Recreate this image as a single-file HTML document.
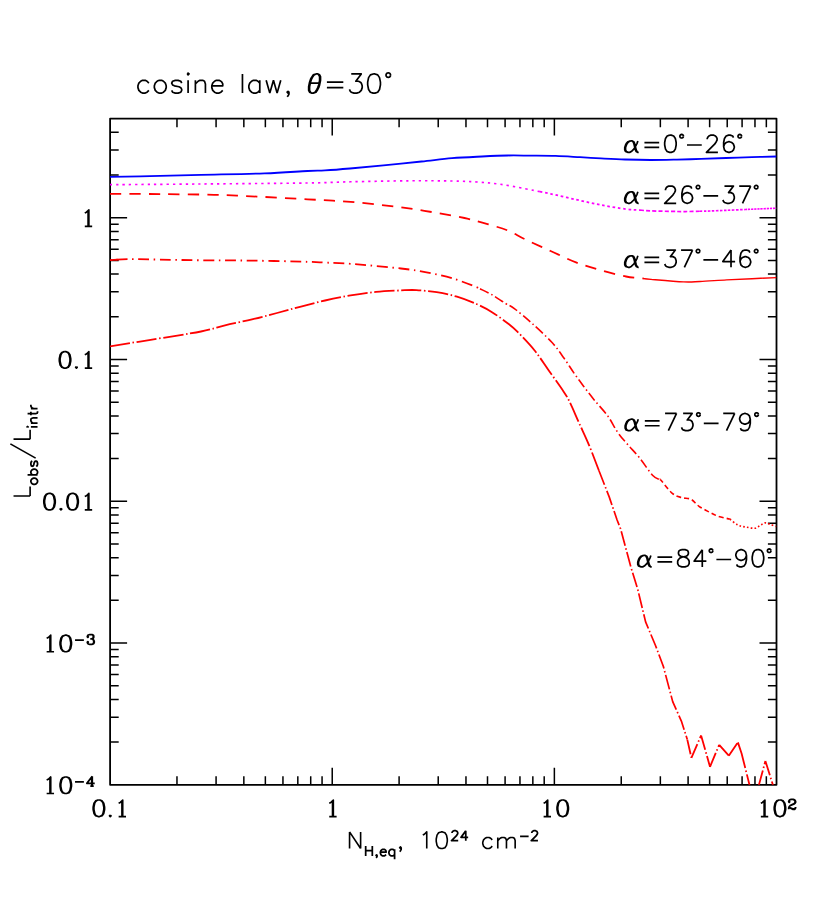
<!DOCTYPE html>
<html lang="en">
<head>
<meta charset="utf-8">
<title>cosine law, θ=30° — L_obs/L_intr vs N_H,eq</title>
<style>
html,body{margin:0;padding:0;background:#ffffff;}
body{width:830px;height:911px;overflow:hidden;font-family:"Liberation Sans",sans-serif;}
svg{display:block;}
.lbl text{font-family:"Liberation Sans",sans-serif;fill:#000;fill-opacity:0;stroke:none;}
</style>
</head>
<body>
<svg width="830" height="911" viewBox="0 0 830 911" role="img" aria-label="Log-log plot of L_obs/L_intr versus N_H,eq for cosine law, theta = 30 degrees">
<rect x="0" y="0" width="830" height="911" fill="#ffffff"/>
<defs><clipPath id="plotclip"><rect x="110.1" y="118.6" width="666.4" height="666.2"/></clipPath></defs>
<g id="axes" fill="none" stroke="#000000" stroke-linecap="butt">
<path d="M176.97 784.8V776.2M176.97 118.6V127.2M216.08 784.8V776.2M216.08 118.6V127.2M243.84 784.8V776.2M243.84 118.6V127.2M265.36 784.8V776.2M265.36 118.6V127.2M282.95 784.8V776.2M282.95 118.6V127.2M297.82 784.8V776.2M297.82 118.6V127.2M310.71 784.8V776.2M310.71 118.6V127.2M322.07 784.8V776.2M322.07 118.6V127.2M332.23 784.8V767.8M332.23 118.6V135.6M399.1 784.8V776.2M399.1 118.6V127.2M438.22 784.8V776.2M438.22 118.6V127.2M465.97 784.8V776.2M465.97 118.6V127.2M487.5 784.8V776.2M487.5 118.6V127.2M505.09 784.8V776.2M505.09 118.6V127.2M519.96 784.8V776.2M519.96 118.6V127.2M532.84 784.8V776.2M532.84 118.6V127.2M544.2 784.8V776.2M544.2 118.6V127.2M554.37 784.8V767.8M554.37 118.6V135.6M621.24 784.8V776.2M621.24 118.6V127.2M660.35 784.8V776.2M660.35 118.6V127.2M688.1 784.8V776.2M688.1 118.6V127.2M709.63 784.8V776.2M709.63 118.6V127.2M727.22 784.8V776.2M727.22 118.6V127.2M742.09 784.8V776.2M742.09 118.6V127.2M754.97 784.8V776.2M754.97 118.6V127.2M766.34 784.8V776.2M766.34 118.6V127.2M110.1 742.12H118.7M776.5 742.12H767.9M110.1 717.16H118.7M776.5 717.16H767.9M110.1 699.44H118.7M776.5 699.44H767.9M110.1 685.7H118.7M776.5 685.7H767.9M110.1 674.48H118.7M776.5 674.48H767.9M110.1 664.99H118.7M776.5 664.99H767.9M110.1 656.76H118.7M776.5 656.76H767.9M110.1 649.51H118.7M776.5 649.51H767.9M110.1 643.02H127.1M776.5 643.02H759.5M110.1 600.35H118.7M776.5 600.35H767.9M110.1 575.38H118.7M776.5 575.38H767.9M110.1 557.67H118.7M776.5 557.67H767.9M110.1 543.93H118.7M776.5 543.93H767.9M110.1 532.7H118.7M776.5 532.7H767.9M110.1 523.21H118.7M776.5 523.21H767.9M110.1 514.99H118.7M776.5 514.99H767.9M110.1 507.74H118.7M776.5 507.74H767.9M110.1 501.25H127.1M776.5 501.25H759.5M110.1 458.57H118.7M776.5 458.57H767.9M110.1 433.6H118.7M776.5 433.6H767.9M110.1 415.89H118.7M776.5 415.89H767.9M110.1 402.15H118.7M776.5 402.15H767.9M110.1 390.93H118.7M776.5 390.93H767.9M110.1 381.43H118.7M776.5 381.43H767.9M110.1 373.21H118.7M776.5 373.21H767.9M110.1 365.96H118.7M776.5 365.96H767.9M110.1 359.47H127.1M776.5 359.47H759.5M110.1 316.79H118.7M776.5 316.79H767.9M110.1 291.83H118.7M776.5 291.83H767.9M110.1 274.12H118.7M776.5 274.12H767.9M110.1 260.38H118.7M776.5 260.38H767.9M110.1 249.15H118.7M776.5 249.15H767.9M110.1 239.66H118.7M776.5 239.66H767.9M110.1 231.44H118.7M776.5 231.44H767.9M110.1 224.18H118.7M776.5 224.18H767.9M110.1 217.7H127.1M776.5 217.7H759.5M110.1 175.02H118.7M776.5 175.02H767.9M110.1 150.05H118.7M776.5 150.05H767.9M110.1 132.34H118.7M776.5 132.34H767.9" stroke-width="1.5"/>
<rect x="110.1" y="118.6" width="666.4" height="666.2" stroke-width="1.8" stroke-linejoin="round"/>
</g>
<g id="curves" fill="none" stroke-linecap="butt" stroke-linejoin="round" clip-path="url(#plotclip)">
<path d="M110 176.9C116.67 176.77 134.83 176.43 150 176.1C165.17 175.77 181.92 175.35 201 174.9C220.08 174.45 246.75 174.05 264.5 173.4C282.25 172.75 297.42 171.5 307.5 171C317.58 170.5 317.92 170.82 325 170.4C332.08 169.98 340.25 169.35 350 168.5C359.75 167.65 371.58 166.47 383.5 165.3C395.42 164.13 410.08 162.68 421.5 161.5C432.92 160.32 441.92 159.03 452 158.2C462.08 157.37 472.73 156.95 482 156.5C491.27 156.05 499.6 155.65 507.6 155.5C515.6 155.35 521.98 155.53 530 155.6C538.02 155.67 547.37 155.63 555.7 155.9C564.03 156.17 572.45 156.78 580 157.2C587.55 157.62 593.5 158.02 601 158.4C608.5 158.78 616.73 159.23 625 159.5C633.27 159.77 641.93 159.98 650.6 160C659.27 160.02 668.6 159.78 677 159.6C685.4 159.42 692.83 159.17 701 158.9C709.17 158.63 717.5 158.3 726 158C734.5 157.7 743.58 157.35 752 157.1C760.42 156.85 772.42 156.6 776.5 156.5" stroke="#0000ff" stroke-width="1.8"/>
<path d="M110 184.7C125 184.58 167.17 184.28 200 184C232.83 183.72 281.9 183.37 307 183C332.1 182.63 333.6 182.17 350.6 181.8C367.6 181.43 392.1 180.93 409 180.8C425.9 180.67 440.67 180.8 452 181C463.33 181.2 469 181.47 477 182C485 182.53 492 183.08 500 184.2C508 185.32 518.33 187.45 525 188.7C531.67 189.95 537.5 191.19 540 191.69" stroke="#ff00ff" stroke-width="1.65" stroke-dasharray="2.3 4"/>
<path d="M540 191.69C541.77 192.04 544.6 192.48 550.6 193.8C556.6 195.12 567.6 197.73 576 199.6C584.4 201.47 592.67 203.42 601 205C609.33 206.58 619.5 208.25 626 209.1C632.5 209.95 637.67 209.94 640 210.11" stroke="#ff00ff" stroke-width="1.8" stroke-dasharray="2.6 2.7"/>
<path d="M640 210.11C641.83 210.24 644.83 210.67 651 210.9C657.17 211.13 670.73 211.4 677 211.5C683.27 211.6 684.77 211.54 688.6 211.5C692.43 211.46 698.1 211.28 700 211.23" stroke="#ff00ff" stroke-width="1.7" stroke-dasharray="4 2.2"/>
<path d="M700 211.23C701.67 211.19 705.57 211.16 710 211C714.43 210.84 720.77 210.55 726.6 210.3C732.43 210.05 741.93 209.64 745 209.5" stroke="#ff00ff" stroke-width="1.7" stroke-dasharray="2.5 1.5"/>
<path d="M745 209.5C746.17 209.45 746.75 209.42 752 209.2C757.25 208.98 772.42 208.37 776.5 208.2" stroke="#ff00ff" stroke-width="1.6" stroke-dasharray="2.2 0.9"/>
<path d="M110 193.8C118.33 193.85 142.67 193.93 160 194.1C177.33 194.27 197.83 194.38 214 194.8C230.17 195.22 241.42 195.85 257 196.6C272.58 197.35 291.9 198.42 307.5 199.3C323.1 200.18 335.85 200.67 350.6 201.9C365.35 203.13 382.5 205.02 396 206.7C409.5 208.38 420.18 210.12 431.6 212C443.02 213.88 454.77 215.87 464.5 218C474.23 220.13 482.58 222.63 490 224.8C497.42 226.97 503.17 228.58 509 231C514.83 233.42 518.07 235.97 525 239.3C531.93 242.63 542.1 247.15 550.6 251C559.1 254.85 567.6 259.18 576 262.4C584.4 265.62 592.67 267.95 601 270.3C609.33 272.65 618.83 275.12 626 276.5C633.17 277.88 641 278.24 644 278.59" stroke="#ff0000" stroke-width="1.8" stroke-dasharray="11.3 8.15" stroke-dashoffset="0"/>
<path d="M644 278.59C645.17 278.72 644.42 278.85 651 279.4C657.58 279.95 675.33 281.55 683.5 281.9C691.67 282.25 692.82 281.83 700 281.5C707.18 281.17 717.93 280.37 726.6 279.9C735.27 279.43 743.68 279.08 752 278.7C760.32 278.32 772.42 277.78 776.5 277.6" stroke="#ff0000" stroke-width="1.4"/>
<path d="M110 260.2C113 260.02 119.67 259.2 128 259.1C136.33 259 147.83 259.4 160 259.6C172.17 259.8 185.67 260.13 201 260.3C216.33 260.47 234.25 260.35 252 260.6C269.75 260.85 295.33 261.47 307.5 261.8C319.67 262.13 317.82 262.27 325 262.6C332.18 262.93 337.93 262.82 350.6 263.8C363.27 264.78 388.35 267.08 401 268.5C413.65 269.92 418 270.68 426.5 272.3C435 273.92 443.58 275.7 452 278.2C460.42 280.7 472.33 285.53 477 287.3C481.67 289.07 479.5 288.55 480 288.8" stroke="#ff0000" stroke-width="1.8" stroke-dasharray="11 4.6 1.5 4.6" stroke-dashoffset="15.1"/>
<path d="M110 260.2C111.25 260.12 116.25 259.82 117.5 259.74" stroke="#ff0000" stroke-width="1.8"/>
<path d="M480 288.8C482.07 289.83 488.18 292.58 492.4 295C496.62 297.42 501.58 301 505.3 303.3C509.02 305.6 510.25 305.47 514.7 308.8C519.15 312.13 525.73 317.63 532 323.3C538.27 328.97 546.98 337.02 552.3 342.8C557.62 348.58 560.28 352.95 563.9 358C567.52 363.05 570.63 368.28 574 373.1C577.37 377.92 580.73 382.43 584.1 386.9C587.47 391.37 590.27 395.07 594.2 399.9C598.13 404.73 603.77 410.47 607.7 415.9C611.63 421.33 614.43 427.68 617.8 432.5C621.17 437.32 624.28 440.58 627.9 444.8C631.52 449.02 635.4 452.73 639.5 457.8C643.6 462.87 649.08 471.54 652.5 475.2C655.92 478.86 658.75 479.01 660 479.77" stroke="#ff0000" stroke-width="1.6" stroke-dasharray="9.5 3 1.5 3"/>
<path d="M660 479.77C660.2 479.89 659.15 478.24 661.2 480.5C663.25 482.76 668.88 490.45 672.3 493.3C675.72 496.15 678.57 496.6 681.7 497.6C684.83 498.6 688.22 497.85 691.1 499.3C693.98 500.75 695.98 504.18 699 506.3C702.02 508.42 706.07 510.37 709.2 512C712.33 513.63 714.43 514.93 717.8 516.1C721.17 517.27 727.37 518.45 729.4 519C731.43 519.55 729.9 519.35 730 519.42" stroke="#ff0000" stroke-width="1.6" stroke-dasharray="5 3"/>
<path d="M730 519.42C731.35 520.37 735.32 523.8 738.1 525.1C740.88 526.4 743.93 526.68 746.7 527.2C749.47 527.72 752.52 528.43 754.7 528.2C756.88 527.97 758.12 526.68 759.8 525.8C761.48 524.92 763.12 523.15 764.8 522.9C766.48 522.65 767.97 523.7 769.9 524.3C771.83 524.9 775.32 526.13 776.4 526.5" stroke="#ff0000" stroke-width="1.6" stroke-dasharray="1.6 2.2"/>
<path d="M110 346.3C116.77 345.22 135.43 342.27 150.6 339.8C165.77 337.33 188.6 333.92 201 331.5C213.4 329.08 216.5 327.32 225 325.3C233.5 323.28 243.33 321.45 252 319.4C260.67 317.35 269 315.1 277 313C285 310.9 292 308.88 300 306.8C308 304.72 316.57 302.4 325 300.5C333.43 298.6 342.1 296.83 350.6 295.4C359.1 293.97 367.6 292.73 376 291.9C384.4 291.07 394.27 290.7 401 290.4C407.73 290.1 410.45 289.8 416.4 290.1C422.35 290.4 429.93 291.1 436.7 292.2C443.47 293.3 450.28 294.68 457 296.7C463.72 298.72 471.1 301.68 477 304.3C482.9 306.92 487.07 309.07 492.4 312.4C497.73 315.73 504.8 321.05 509 324.3C513.2 327.55 513.4 327.62 517.6 331.9C521.8 336.18 529.07 343.67 534.2 350C539.33 356.33 543.52 363 548.4 369.9C553.28 376.8 560 386.15 563.5 391.4C567 396.65 566.85 396.23 569.4 401.4C571.95 406.57 575.55 415.17 578.8 422.4C582.05 429.63 585.53 436.73 588.9 444.8C592.27 452.87 597.32 466.47 599 470.8" stroke="#ff0000" stroke-width="1.8" stroke-dasharray="20.3 2.6 1.5 2.6"/>
<path d="M599 470.8L609.2 496.9L617.1 520L620.6 528.9L630.8 566.8L637.8 589.6L645.6 621.9L655.7 646L663.3 666.2L672.7 701.6L681.6 721.7L687.3 739.6" stroke="#ff0000" stroke-width="1.7" stroke-dasharray="15 2.5 1.5 2.5"/>
<path d="M687.3 739.6L691.4 757.8M691.4 757.8L701.1 735.4M701.1 735.4L710 766.8M710 766.8L719.2 744.8M719.2 744.8L728.8 755.7M728.8 755.7L737.9 742.4M737.9 742.4L741.6 753.5M741.6 753.5L749.5 784.9M749.5 784.9L754 810M754 810L758.9 784.9M758.9 784.9L765.4 761M765.4 761L772.9 784.9M772.9 784.9L776 796" stroke="#ff0000" stroke-width="1.8" stroke-dasharray="15 2.5 1.5 2.5"/>
</g>
<g id="glyphs" fill="none" stroke="#000000" stroke-linecap="butt" stroke-linejoin="round">
<path d="M148.88 83.08L147.06 81.25L145.23 80.34L142.5 80.34L140.67 81.25L138.85 83.08L137.94 85.81L137.94 87.64L138.85 90.37L140.67 92.2L142.5 93.11L145.23 93.11L147.06 92.2L148.88 90.37M158.91 80.34L157.09 81.25L155.26 83.08L154.35 85.81L154.35 87.64L155.26 90.37L157.09 92.2L158.91 93.11L161.65 93.11L163.47 92.2L165.3 90.37L166.21 87.64L166.21 85.81L165.3 83.08L163.47 81.25L161.65 80.34L158.91 80.34M181.71 83.08L180.8 81.25L178.06 80.34L175.33 80.34L172.59 81.25L171.68 83.08L172.59 84.9L174.42 85.81L178.98 86.72L180.8 87.64L181.71 89.46L181.71 90.37L180.8 92.2L178.06 93.11L175.33 93.11L172.59 92.2L171.68 90.37M187.18 73.96L188.1 74.87L189.01 73.96L188.1 73.04L187.18 73.96M188.1 80.34L188.1 93.11M195.39 80.34L195.39 93.11M195.39 83.99L198.13 81.25L199.95 80.34L202.69 80.34L204.51 81.25L205.42 83.99L205.42 93.11M211.81 85.81L222.75 85.81L222.75 83.99L221.84 82.16L220.93 81.25L219.1 80.34L216.37 80.34L214.54 81.25L212.72 83.08L211.81 85.81L211.81 87.64L212.72 90.37L214.54 92.2L216.37 93.11L219.1 93.11L220.93 92.2L222.75 90.37M242.45 73.96L242.45 93.11M259.78 80.34L259.78 93.11M259.78 83.08L257.96 81.25L256.13 80.34L253.4 80.34L251.57 81.25L249.75 83.08L248.84 85.81L248.84 87.64L249.75 90.37L251.57 92.2L253.4 93.11L256.13 93.11L257.96 92.2L259.78 90.37M266.16 80.34L269.81 93.11M273.46 80.34L269.81 93.11M273.46 80.34L277.11 93.11M280.76 80.34L277.11 93.11M288.96 92.2L288.05 93.11L287.14 92.2L288.05 91.28L288.96 92.2L288.96 94.02L288.05 95.84L287.14 96.76M315.96 73.96L313.22 74.87L311.4 77.6L310.49 79.43L309.57 82.16L308.66 86.72L308.66 90.37L309.57 92.2L311.4 93.11L313.22 93.11L315.96 92.2L317.78 89.46L318.69 87.64L319.61 84.9L320.52 80.34L320.52 76.69L319.61 74.87L317.78 73.96L315.96 73.96M315.96 73.96L314.13 74.87L312.31 77.6L311.4 79.43L310.49 82.16L309.57 86.72L309.57 90.37L310.49 92.2L311.4 93.11M313.22 93.11L315.05 92.2L316.87 89.46L317.78 87.64L318.69 84.9L319.61 80.34L319.61 76.69L318.69 74.87L317.78 73.96M310.49 83.08L318.69 83.08M326.9 82.16L343.32 82.16M326.9 87.64L343.32 87.64M351.25 73.96L361.28 73.96L355.81 81.25L358.55 81.25L360.37 82.16L361.28 83.08L362.2 85.81L362.2 87.64L361.28 90.37L359.46 92.2L356.72 93.11L353.99 93.11L351.25 92.2L350.34 91.28L349.43 89.46M373.14 73.96L370.4 74.87L368.58 77.6L367.67 82.16L367.67 84.9L368.58 89.46L370.4 92.2L373.14 93.11L374.96 93.11L377.7 92.2L379.52 89.46L380.44 84.9L380.44 82.16L379.52 77.6L377.7 74.87L374.96 73.96L373.14 73.96M390.56 75.14L390.39 76.01L389.89 76.75L389.15 77.25L388.28 77.42L387.41 77.25L386.67 76.75L386.17 76.01L386 75.14L386.17 74.27L386.67 73.53L387.41 73.04L388.28 72.86L389.15 73.04L389.89 73.53L390.39 74.27L390.56 75.14" stroke-width="1.7"/>
<path d="M630.49 140.9L628.03 141.72L626.39 143.36L625.57 145L624.75 147.46L624.75 149.92L625.57 151.56L628.03 152.38L629.67 152.38L631.31 151.56L633.77 149.1L635.41 146.64L637.05 143.36L637.87 140.9M630.49 140.9L628.85 141.72L627.21 143.36L626.39 145L625.57 147.46L625.57 149.92L626.39 151.56L628.03 152.38M630.49 140.9L632.13 140.9L633.77 141.72L634.59 143.36L636.23 149.92L637.05 151.56L637.87 152.38M632.13 140.9L632.95 141.72L633.77 143.36L635.41 149.92L636.23 151.56L637.87 152.38L638.69 152.38M644.43 142.54L659.19 142.54M644.43 147.46L659.19 147.46M669.6 135.16L667.14 135.98L665.5 138.44L664.68 142.54L664.68 145L665.5 149.1L667.14 151.56L669.6 152.38L671.24 152.38L673.7 151.56L675.34 149.1L676.16 145L676.16 142.54L675.34 138.44L673.7 135.98L671.24 135.16L669.6 135.16M683.46 136.23L683.32 136.92L682.93 137.5L682.35 137.89L681.66 138.03L680.97 137.89L680.38 137.5L679.99 136.92L679.85 136.23L679.99 135.54L680.38 134.95L680.97 134.56L681.66 134.42L682.35 134.56L682.93 134.95L683.32 135.54L683.46 136.23M686.99 145L701.75 145M707.24 139.26L707.24 138.44L708.06 136.8L708.88 135.98L710.52 135.16L713.8 135.16L715.44 135.98L716.26 136.8L717.08 138.44L717.08 140.08L716.26 141.72L714.62 144.18L706.42 152.38L717.9 152.38M733.48 137.62L732.66 135.98L730.2 135.16L728.56 135.16L726.1 135.98L724.46 138.44L723.64 142.54L723.64 146.64L724.46 149.92L726.1 151.56L728.56 152.38L729.38 152.38L731.84 151.56L733.48 149.92L734.3 147.46L734.3 146.64L733.48 144.18L731.84 142.54L729.38 141.72L728.56 141.72L726.1 142.54L724.46 144.18L723.64 146.64M741.6 136.23L741.46 136.92L741.07 137.5L740.49 137.89L739.8 138.03L739.11 137.89L738.52 137.5L738.13 136.92L737.99 136.23L738.13 135.54L738.52 134.95L739.11 134.56L739.8 134.42L740.49 134.56L741.07 134.95L741.46 135.54L741.6 136.23" stroke-width="1.7"/>
<path d="M630.49 191.8L628.03 192.62L626.39 194.26L625.57 195.9L624.75 198.36L624.75 200.82L625.57 202.46L628.03 203.28L629.67 203.28L631.31 202.46L633.77 200L635.41 197.54L637.05 194.26L637.87 191.8M630.49 191.8L628.85 192.62L627.21 194.26L626.39 195.9L625.57 198.36L625.57 200.82L626.39 202.46L628.03 203.28M630.49 191.8L632.13 191.8L633.77 192.62L634.59 194.26L636.23 200.82L637.05 202.46L637.87 203.28M632.13 191.8L632.95 192.62L633.77 194.26L635.41 200.82L636.23 202.46L637.87 203.28L638.69 203.28M644.43 193.44L659.19 193.44M644.43 198.36L659.19 198.36M665.5 190.16L665.5 189.34L666.32 187.7L667.14 186.88L668.78 186.06L672.06 186.06L673.7 186.88L674.52 187.7L675.34 189.34L675.34 190.98L674.52 192.62L672.88 195.08L664.68 203.28L676.16 203.28M691.74 188.52L690.92 186.88L688.46 186.06L686.82 186.06L684.36 186.88L682.72 189.34L681.9 193.44L681.9 197.54L682.72 200.82L684.36 202.46L686.82 203.28L687.64 203.28L690.1 202.46L691.74 200.82L692.56 198.36L692.56 197.54L691.74 195.08L690.1 193.44L687.64 192.62L686.82 192.62L684.36 193.44L682.72 195.08L681.9 197.54M699.86 187.13L699.72 187.82L699.33 188.4L698.75 188.79L698.06 188.93L697.37 188.79L696.78 188.4L696.39 187.82L696.25 187.13L696.39 186.44L696.78 185.85L697.37 185.46L698.06 185.32L698.75 185.46L699.33 185.85L699.72 186.44L699.86 187.13M703.39 195.9L718.15 195.9M724.46 186.06L733.48 186.06L728.56 192.62L731.02 192.62L732.66 193.44L733.48 194.26L734.3 196.72L734.3 198.36L733.48 200.82L731.84 202.46L729.38 203.28L726.92 203.28L724.46 202.46L723.64 201.64L722.82 200M750.7 186.06L742.5 203.28M739.22 186.06L750.7 186.06M758 187.13L757.86 187.82L757.47 188.4L756.89 188.79L756.2 188.93L755.51 188.79L754.92 188.4L754.53 187.82L754.39 187.13L754.53 186.44L754.92 185.85L755.51 185.46L756.2 185.32L756.89 185.46L757.47 185.85L757.86 186.44L758 187.13" stroke-width="1.7"/>
<path d="M630.49 255.8L628.03 256.62L626.39 258.26L625.57 259.9L624.75 262.36L624.75 264.82L625.57 266.46L628.03 267.28L629.67 267.28L631.31 266.46L633.77 264L635.41 261.54L637.05 258.26L637.87 255.8M630.49 255.8L628.85 256.62L627.21 258.26L626.39 259.9L625.57 262.36L625.57 264.82L626.39 266.46L628.03 267.28M630.49 255.8L632.13 255.8L633.77 256.62L634.59 258.26L636.23 264.82L637.05 266.46L637.87 267.28M632.13 255.8L632.95 256.62L633.77 258.26L635.41 264.82L636.23 266.46L637.87 267.28L638.69 267.28M644.43 257.44L659.19 257.44M644.43 262.36L659.19 262.36M666.32 250.06L675.34 250.06L670.42 256.62L672.88 256.62L674.52 257.44L675.34 258.26L676.16 260.72L676.16 262.36L675.34 264.82L673.7 266.46L671.24 267.28L668.78 267.28L666.32 266.46L665.5 265.64L664.68 264M692.56 250.06L684.36 267.28M681.08 250.06L692.56 250.06M699.86 251.13L699.72 251.82L699.33 252.4L698.75 252.79L698.06 252.93L697.37 252.79L696.78 252.4L696.39 251.82L696.25 251.13L696.39 250.44L696.78 249.85L697.37 249.46L698.06 249.32L698.75 249.46L699.33 249.85L699.72 250.44L699.86 251.13M703.39 259.9L718.15 259.9M731.02 250.06L722.82 261.54L735.12 261.54M731.02 250.06L731.02 267.28M749.88 252.52L749.06 250.88L746.6 250.06L744.96 250.06L742.5 250.88L740.86 253.34L740.04 257.44L740.04 261.54L740.86 264.82L742.5 266.46L744.96 267.28L745.78 267.28L748.24 266.46L749.88 264.82L750.7 262.36L750.7 261.54L749.88 259.08L748.24 257.44L745.78 256.62L744.96 256.62L742.5 257.44L740.86 259.08L740.04 261.54M758 251.13L757.86 251.82L757.47 252.4L756.89 252.79L756.2 252.93L755.51 252.79L754.92 252.4L754.53 251.82L754.39 251.13L754.53 250.44L754.92 249.85L755.51 249.46L756.2 249.32L756.89 249.46L757.47 249.85L757.86 250.44L758 251.13" stroke-width="1.7"/>
<path d="M630.89 419.2L628.43 420.02L626.79 421.66L625.97 423.3L625.15 425.76L625.15 428.22L625.97 429.86L628.43 430.68L630.07 430.68L631.71 429.86L634.17 427.4L635.81 424.94L637.45 421.66L638.27 419.2M630.89 419.2L629.25 420.02L627.61 421.66L626.79 423.3L625.97 425.76L625.97 428.22L626.79 429.86L628.43 430.68M630.89 419.2L632.53 419.2L634.17 420.02L634.99 421.66L636.63 428.22L637.45 429.86L638.27 430.68M632.53 419.2L633.35 420.02L634.17 421.66L635.81 428.22L636.63 429.86L638.27 430.68L639.09 430.68M644.83 420.84L659.59 420.84M644.83 425.76L659.59 425.76M676.56 413.46L668.36 430.68M665.08 413.46L676.56 413.46M683.12 413.46L692.14 413.46L687.22 420.02L689.68 420.02L691.32 420.84L692.14 421.66L692.96 424.12L692.96 425.76L692.14 428.22L690.5 429.86L688.04 430.68L685.58 430.68L683.12 429.86L682.3 429.04L681.48 427.4M700.26 414.53L700.12 415.22L699.73 415.8L699.15 416.19L698.46 416.33L697.77 416.19L697.18 415.8L696.79 415.22L696.65 414.53L696.79 413.84L697.18 413.25L697.77 412.86L698.46 412.72L699.15 412.86L699.73 413.25L700.12 413.84L700.26 414.53M703.79 423.3L718.55 423.3M734.7 413.46L726.5 430.68M723.22 413.46L734.7 413.46M750.28 419.2L749.46 421.66L747.82 423.3L745.36 424.12L744.54 424.12L742.08 423.3L740.44 421.66L739.62 419.2L739.62 418.38L740.44 415.92L742.08 414.28L744.54 413.46L745.36 413.46L747.82 414.28L749.46 415.92L750.28 419.2L750.28 423.3L749.46 427.4L747.82 429.86L745.36 430.68L743.72 430.68L741.26 429.86L740.44 428.22M758.4 414.53L758.26 415.22L757.87 415.8L757.29 416.19L756.6 416.33L755.91 416.19L755.32 415.8L754.93 415.22L754.79 414.53L754.93 413.84L755.32 413.25L755.91 412.86L756.6 412.72L757.29 412.86L757.87 413.25L758.26 413.84L758.4 414.53" stroke-width="1.7"/>
<path d="M643.49 555.4L641.03 556.22L639.39 557.86L638.57 559.5L637.75 561.96L637.75 564.42L638.57 566.06L641.03 566.88L642.67 566.88L644.31 566.06L646.77 563.6L648.41 561.14L650.05 557.86L650.87 555.4M643.49 555.4L641.85 556.22L640.21 557.86L639.39 559.5L638.57 561.96L638.57 564.42L639.39 566.06L641.03 566.88M643.49 555.4L645.13 555.4L646.77 556.22L647.59 557.86L649.23 564.42L650.05 566.06L650.87 566.88M645.13 555.4L645.95 556.22L646.77 557.86L648.41 564.42L649.23 566.06L650.87 566.88L651.69 566.88M657.43 557.04L672.19 557.04M657.43 561.96L672.19 561.96M681.78 549.66L679.32 550.48L678.5 552.12L678.5 553.76L679.32 555.4L680.96 556.22L684.24 557.04L686.7 557.86L688.34 559.5L689.16 561.14L689.16 563.6L688.34 565.24L687.52 566.06L685.06 566.88L681.78 566.88L679.32 566.06L678.5 565.24L677.68 563.6L677.68 561.14L678.5 559.5L680.14 557.86L682.6 557.04L685.88 556.22L687.52 555.4L688.34 553.76L688.34 552.12L687.52 550.48L685.06 549.66L681.78 549.66M702.28 549.66L694.08 561.14L706.38 561.14M702.28 549.66L702.28 566.88M712.86 550.73L712.72 551.42L712.33 552L711.75 552.39L711.06 552.53L710.37 552.39L709.78 552L709.39 551.42L709.25 550.73L709.39 550.04L709.78 549.45L710.37 549.06L711.06 548.92L711.75 549.06L712.33 549.45L712.72 550.04L712.86 550.73M716.39 559.5L731.15 559.5M746.48 555.4L745.66 557.86L744.02 559.5L741.56 560.32L740.74 560.32L738.28 559.5L736.64 557.86L735.82 555.4L735.82 554.58L736.64 552.12L738.28 550.48L740.74 549.66L741.56 549.66L744.02 550.48L745.66 552.12L746.48 555.4L746.48 559.5L745.66 563.6L744.02 566.06L741.56 566.88L739.92 566.88L737.46 566.06L736.64 564.42M757.14 549.66L754.68 550.48L753.04 552.94L752.22 557.04L752.22 559.5L753.04 563.6L754.68 566.06L757.14 566.88L758.78 566.88L761.24 566.06L762.88 563.6L763.7 559.5L763.7 557.04L762.88 552.94L761.24 550.48L758.78 549.66L757.14 549.66M771 550.73L770.86 551.42L770.47 552L769.89 552.39L769.2 552.53L768.51 552.39L767.92 552L767.53 551.42L767.39 550.73L767.53 550.04L767.92 549.45L768.51 549.06L769.2 548.92L769.89 549.06L770.47 549.45L770.86 550.04L771 550.73" stroke-width="1.7"/>
<path d="M84.79 212.98L86.43 212.19L88.89 209.83L88.89 226.36M88.07 210.62L88.07 226.36M84.79 226.36L92.17 226.36" stroke-width="1.62"/>
<path d="M64.21 351.61L61.75 352.4L60.11 354.76L59.29 358.69L59.29 361.05L60.11 364.99L61.75 367.35L64.21 368.14L65.85 368.14L68.31 367.35L69.95 364.99L70.77 361.05L70.77 358.69L69.95 354.76L68.31 352.4L65.85 351.61L64.21 351.61M64.21 351.61L62.57 352.4L61.75 353.18L60.93 354.76L60.11 358.69L60.11 361.05L60.93 364.99L61.75 366.56L62.57 367.35L64.21 368.14M65.85 368.14L67.49 367.35L68.31 366.56L69.13 364.99L69.95 361.05L69.95 358.69L69.13 354.76L68.31 353.18L67.49 352.4L65.85 351.61M76.43 366.56L75.61 367.35L76.43 368.14L77.25 367.35L76.43 366.56M84.79 354.76L86.43 353.97L88.89 351.61L88.89 368.14M88.07 352.4L88.07 368.14M84.79 368.14L92.17 368.14" stroke-width="1.62"/>
<path d="M48.71 493.38L46.25 494.17L44.61 496.53L43.79 500.47L43.79 502.83L44.61 506.76L46.25 509.12L48.71 509.91L50.35 509.91L52.81 509.12L54.45 506.76L55.27 502.83L55.27 500.47L54.45 496.53L52.81 494.17L50.35 493.38L48.71 493.38M48.71 493.38L47.07 494.17L46.25 494.96L45.43 496.53L44.61 500.47L44.61 502.83L45.43 506.76L46.25 508.34L47.07 509.12L48.71 509.91M50.35 509.91L51.99 509.12L52.81 508.34L53.63 506.76L54.45 502.83L54.45 500.47L53.63 496.53L52.81 494.96L51.99 494.17L50.35 493.38M60.93 508.34L60.11 509.12L60.93 509.91L61.75 509.12L60.93 508.34M71.76 493.38L69.3 494.17L67.66 496.53L66.84 500.47L66.84 502.83L67.66 506.76L69.3 509.12L71.76 509.91L73.4 509.91L75.86 509.12L77.5 506.76L78.32 502.83L78.32 500.47L77.5 496.53L75.86 494.17L73.4 493.38L71.76 493.38M71.76 493.38L70.12 494.17L69.3 494.96L68.48 496.53L67.66 500.47L67.66 502.83L68.48 506.76L69.3 508.34L70.12 509.12L71.76 509.91M73.4 509.91L75.04 509.12L75.86 508.34L76.68 506.76L77.5 502.83L77.5 500.47L76.68 496.53L75.86 494.96L75.04 494.17L73.4 493.38M84.79 496.53L86.43 495.75L88.89 493.38L88.89 509.91M88.07 494.17L88.07 509.91M84.79 509.91L92.17 509.91" stroke-width="1.62"/>
<path d="M46.66 638.31L48.3 637.52L50.76 635.16L50.76 651.69M49.94 635.95L49.94 651.69M46.66 651.69L54.04 651.69M64.95 635.16L62.49 635.95L60.85 638.31L60.03 642.24L60.03 644.6L60.85 648.54L62.49 650.9L64.95 651.69L66.59 651.69L69.05 650.9L70.69 648.54L71.51 644.6L71.51 642.24L70.69 638.31L69.05 635.95L66.59 635.16L64.95 635.16M64.95 635.16L63.31 635.95L62.49 636.73L61.67 638.31L60.85 642.24L60.85 644.6L61.67 648.54L62.49 650.11L63.31 650.9L64.95 651.69M66.59 651.69L68.23 650.9L69.05 650.11L69.87 648.54L70.69 644.6L70.69 642.24L69.87 638.31L69.05 636.73L68.23 635.95L66.59 635.16" stroke-width="1.62"/>
<path d="M75.04 640.2L83.89 640.2M87.83 636.42L88.32 636.89L87.83 637.36L87.34 636.89L87.34 636.42L87.83 635.48L88.32 635L89.8 634.53L91.76 634.53L93.24 635L93.73 635.95L93.73 637.36L93.24 638.31L91.76 638.78L90.29 638.78M91.76 634.53L92.75 635L93.24 635.95L93.24 637.36L92.75 638.31L91.76 638.78M91.76 638.78L92.75 639.25L93.73 640.2L94.22 641.14L94.22 642.56L93.73 643.5L93.24 643.98L91.76 644.45L89.8 644.45L88.32 643.98L87.83 643.5L87.34 642.56L87.34 642.09L87.83 641.61L88.32 642.09L87.83 642.56M93.24 639.73L93.73 641.14L93.73 642.56L93.24 643.5L92.75 643.98L91.76 644.45" stroke-width="1.75"/>
<path d="M46.66 780.08L48.3 779.3L50.76 776.94L50.76 793.46M49.94 777.72L49.94 793.46M46.66 793.46L54.04 793.46M64.95 776.94L62.49 777.72L60.85 780.08L60.03 784.02L60.03 786.38L60.85 790.32L62.49 792.68L64.95 793.46L66.59 793.46L69.05 792.68L70.69 790.32L71.51 786.38L71.51 784.02L70.69 780.08L69.05 777.72L66.59 776.94L64.95 776.94M64.95 776.94L63.31 777.72L62.49 778.51L61.67 780.08L60.85 784.02L60.85 786.38L61.67 790.32L62.49 791.89L63.31 792.68L64.95 793.46M66.59 793.46L68.23 792.68L69.05 791.89L69.87 790.32L70.69 786.38L70.69 784.02L69.87 780.08L69.05 778.51L68.23 777.72L66.59 776.94" stroke-width="1.62"/>
<path d="M75.04 781.97L83.89 781.97M91.76 777.25L91.76 786.22M92.26 776.31L92.26 786.22M92.26 776.31L86.84 783.39L94.72 783.39M90.29 786.22L93.73 786.22" stroke-width="1.75"/>
<path d="M98.05 800.06L95.59 800.84L93.95 803.2L93.13 807.14L93.13 809.5L93.95 813.43L95.59 815.8L98.05 816.58L99.69 816.58L102.15 815.8L103.79 813.43L104.61 809.5L104.61 807.14L103.79 803.2L102.15 800.84L99.69 800.06L98.05 800.06M98.05 800.06L96.41 800.84L95.59 801.63L94.77 803.2L93.95 807.14L93.95 809.5L94.77 813.43L95.59 815.01L96.41 815.8L98.05 816.58M99.69 816.58L101.33 815.8L102.15 815.01L102.97 813.43L103.79 809.5L103.79 807.14L102.97 803.2L102.15 801.63L101.33 800.84L99.69 800.06M110.26 815.01L109.44 815.8L110.26 816.58L111.08 815.8L110.26 815.01M118.63 803.2L120.27 802.42L122.73 800.06L122.73 816.58M121.91 800.84L121.91 816.58M118.63 816.58L126.01 816.58" stroke-width="1.62"/>
<path d="M329.24 803.2L330.88 802.42L333.34 800.06L333.34 816.58M332.52 800.84L332.52 816.58M329.24 816.58L336.62 816.58" stroke-width="1.62"/>
<path d="M543.62 803.2L545.26 802.42L547.72 800.06L547.72 816.58M546.9 800.84L546.9 816.58M543.62 816.58L551 816.58M561.91 800.06L559.45 800.84L557.81 803.2L556.99 807.14L556.99 809.5L557.81 813.43L559.45 815.8L561.91 816.58L563.55 816.58L566.01 815.8L567.65 813.43L568.47 809.5L568.47 807.14L567.65 803.2L566.01 800.84L563.55 800.06L561.91 800.06M561.91 800.06L560.27 800.84L559.45 801.63L558.63 803.2L557.81 807.14L557.81 809.5L558.63 813.43L559.45 815.01L560.27 815.8L561.91 816.58M563.55 816.58L565.19 815.8L566.01 815.01L566.83 813.43L567.65 809.5L567.65 807.14L566.83 803.2L566.01 801.63L565.19 800.84L563.55 800.06" stroke-width="1.62"/>
<path d="M760.84 803.2L762.48 802.42L764.94 800.06L764.94 816.58M764.12 800.84L764.12 816.58M760.84 816.58L768.22 816.58M779.12 800.06L776.66 800.84L775.02 803.2L774.2 807.14L774.2 809.5L775.02 813.43L776.66 815.8L779.12 816.58L780.76 816.58L783.22 815.8L784.86 813.43L785.68 809.5L785.68 807.14L784.86 803.2L783.22 800.84L780.76 800.06L779.12 800.06M779.12 800.06L777.48 800.84L776.66 801.63L775.84 803.2L775.02 807.14L775.02 809.5L775.84 813.43L776.66 815.01L777.48 815.8L779.12 816.58M780.76 816.58L782.4 815.8L783.22 815.01L784.04 813.43L784.86 809.5L784.86 807.14L784.04 803.2L783.22 801.63L782.4 800.84L780.76 800.06" stroke-width="1.62"/>
<path d="M789.21 801.32L789.7 801.79L789.21 802.26L788.72 801.79L788.72 801.32L789.21 800.37L789.7 799.9L791.18 799.43L793.15 799.43L794.62 799.9L795.11 800.37L795.61 801.32L795.61 802.26L795.11 803.2L793.64 804.15L791.18 805.09L790.19 805.57L789.21 806.51L788.72 807.93L788.72 809.34M793.15 799.43L794.13 799.9L794.62 800.37L795.11 801.32L795.11 802.26L794.62 803.2L793.15 804.15L791.18 805.09M788.72 808.4L789.21 807.93L790.19 807.93L792.65 808.87L794.13 808.87L795.11 808.4L795.61 807.93M790.19 807.93L792.65 809.34L794.62 809.34L795.11 808.87L795.61 807.93L795.61 806.98" stroke-width="1.75"/>
<path d="M349.56 831.92L349.56 848.51M349.56 831.92L360.62 848.51M360.62 831.92L360.62 848.51M401.23 847.72L400.44 848.51L399.65 847.72L400.44 846.93L401.23 847.72L401.23 849.3L400.44 850.88L399.65 851.67M422.8 835.08L424.38 834.29L426.75 831.92L426.75 848.51M440.97 831.92L438.6 832.71L437.02 835.08L436.23 839.03L436.23 841.4L437.02 845.35L438.6 847.72L440.97 848.51L442.55 848.51L444.92 847.72L446.5 845.35L447.29 841.4L447.29 839.03L446.5 835.08L444.92 832.71L442.55 831.92L440.97 831.92M492.25 839.82L490.67 838.24L489.09 837.45L486.72 837.45L485.14 838.24L483.56 839.82L482.77 842.19L482.77 843.77L483.56 846.14L485.14 847.72L486.72 848.51L489.09 848.51L490.67 847.72L492.25 846.14M497.78 837.45L497.78 848.51M497.78 840.61L500.15 838.24L501.73 837.45L504.1 837.45L505.68 838.24L506.47 840.61L506.47 848.51M506.47 840.61L508.84 838.24L510.42 837.45L512.79 837.45L514.37 838.24L515.16 840.61L515.16 848.51" stroke-width="1.62"/>
<path d="M365.68 845.98L365.68 855.94M372.31 845.98L372.31 855.94M365.68 850.72L372.31 850.72M377.05 855.46L376.58 855.94L376.1 855.46L376.58 854.99L377.05 855.46L377.05 856.41L376.58 857.36L376.1 857.83M380.37 852.14L386.06 852.14L386.06 851.2L385.58 850.25L385.11 849.77L384.16 849.3L382.74 849.3L381.79 849.77L380.84 850.72L380.37 852.14L380.37 853.09L380.84 854.51L381.79 855.46L382.74 855.94L384.16 855.94L385.11 855.46L386.06 854.51M394.59 849.3L394.59 859.25M394.59 850.72L393.64 849.77L392.69 849.3L391.27 849.3L390.32 849.77L389.38 850.72L388.9 852.14L388.9 853.09L389.38 854.51L390.32 855.46L391.27 855.94L392.69 855.94L393.64 855.46L394.59 854.51M452.03 833.11L452.03 832.63L452.5 831.68L452.98 831.21L453.93 830.74L455.82 830.74L456.77 831.21L457.24 831.68L457.72 832.63L457.72 833.58L457.24 834.53L456.3 835.95L451.56 840.69L458.19 840.69M465.78 830.74L461.04 837.37L468.15 837.37M465.78 830.74L465.78 840.69M520.07 836.42L528.61 836.42M531.78 833.11L531.78 832.63L532.26 831.68L532.73 831.21L533.68 830.74L535.57 830.74L536.52 831.21L537 831.68L537.47 832.63L537.47 833.58L537 834.53L536.05 835.95L531.31 840.69L537.94 840.69" stroke-width="1.75"/>
<path d="M13.52 496.04L30.11 496.04M30.11 496.04L30.11 486.56M10.36 443.9L35.64 458.12M13.52 439.16L30.11 439.16M30.11 439.16L30.11 429.68" stroke-width="1.62"/>
<path d="M30.9 481.98L31.37 482.93L32.32 483.87L33.74 484.35L34.69 484.35L36.11 483.87L37.06 482.93L37.54 481.98L37.54 480.56L37.06 479.61L36.11 478.66L34.69 478.19L33.74 478.19L32.32 478.66L31.37 479.61L30.9 480.56L30.9 481.98M27.58 474.87L37.54 474.87M32.32 474.87L31.37 473.92L30.9 472.97L30.9 471.55L31.37 470.6L32.32 469.65L33.74 469.18L34.69 469.18L36.11 469.65L37.06 470.6L37.54 471.55L37.54 472.97L37.06 473.92L36.11 474.87M32.32 461.12L31.37 461.6L30.9 463.02L30.9 464.44L31.37 465.86L32.32 466.34L33.27 465.86L33.74 464.91L34.22 462.54L34.69 461.6L35.64 461.12L36.11 461.12L37.06 461.6L37.54 463.02L37.54 464.44L37.06 465.86L36.11 466.34M27.58 427.47L28.06 426.99L27.58 426.52L27.11 426.99L27.58 427.47M30.9 426.99L37.54 426.99M30.9 423.2L37.54 423.2M32.8 423.2L31.37 421.78L30.9 420.83L30.9 419.41L31.37 418.46L32.8 417.99L37.54 417.99M27.58 413.72L35.64 413.72L37.06 413.25L37.54 412.3L37.54 411.35M30.9 415.14L30.9 411.83M30.9 408.51L37.54 408.51M33.74 408.51L32.32 408.03L31.37 407.09L30.9 406.14L30.9 404.72" stroke-width="1.75"/>
</g>
<g class="lbl">
<text x="135.2" y="91.9" font-size="26">cosine law, θ=30°</text>
<text x="622.29" y="152" font-size="24">α=0°−26°</text>
<text x="622.29" y="202.9" font-size="24">α=26°−37°</text>
<text x="622.29" y="266.9" font-size="24">α=37°−46°</text>
<text x="622.69" y="430.3" font-size="24">α=73°−79°</text>
<text x="635.29" y="566.5" font-size="24">α=84°−90°</text>
<text x="79.87" y="226.28" font-size="22">1</text>
<text x="56.83" y="368.05" font-size="22">0.1</text>
<text x="41.33" y="509.83" font-size="22">0.01</text>
<text x="41.74" y="651.6" font-size="22">10<tspan baseline-shift="super" font-size="13">−3</tspan></text>
<text x="41.74" y="793.38" font-size="22">10<tspan baseline-shift="super" font-size="13">−4</tspan></text>
<text x="90.67" y="816.5" font-size="22">0.1</text>
<text x="324.32" y="816.5" font-size="22">1</text>
<text x="538.7" y="816.5" font-size="22">10</text>
<text x="755.92" y="816.5" font-size="22">10<tspan baseline-shift="super" font-size="13">2</tspan></text>
<text x="346.4" y="848.4" font-size="20">N<tspan baseline-shift="sub" font-size="12">H,eq</tspan>, 10<tspan baseline-shift="super" font-size="12">24</tspan> cm<tspan baseline-shift="super" font-size="12">−2</tspan></text>
<text x="23" y="506.2" font-size="20" transform="rotate(-90 23 499.2)">L<tspan baseline-shift="sub" font-size="12">obs</tspan>/L<tspan baseline-shift="sub" font-size="12">intr</tspan></text>
</g>
</svg>
</body>
</html>
